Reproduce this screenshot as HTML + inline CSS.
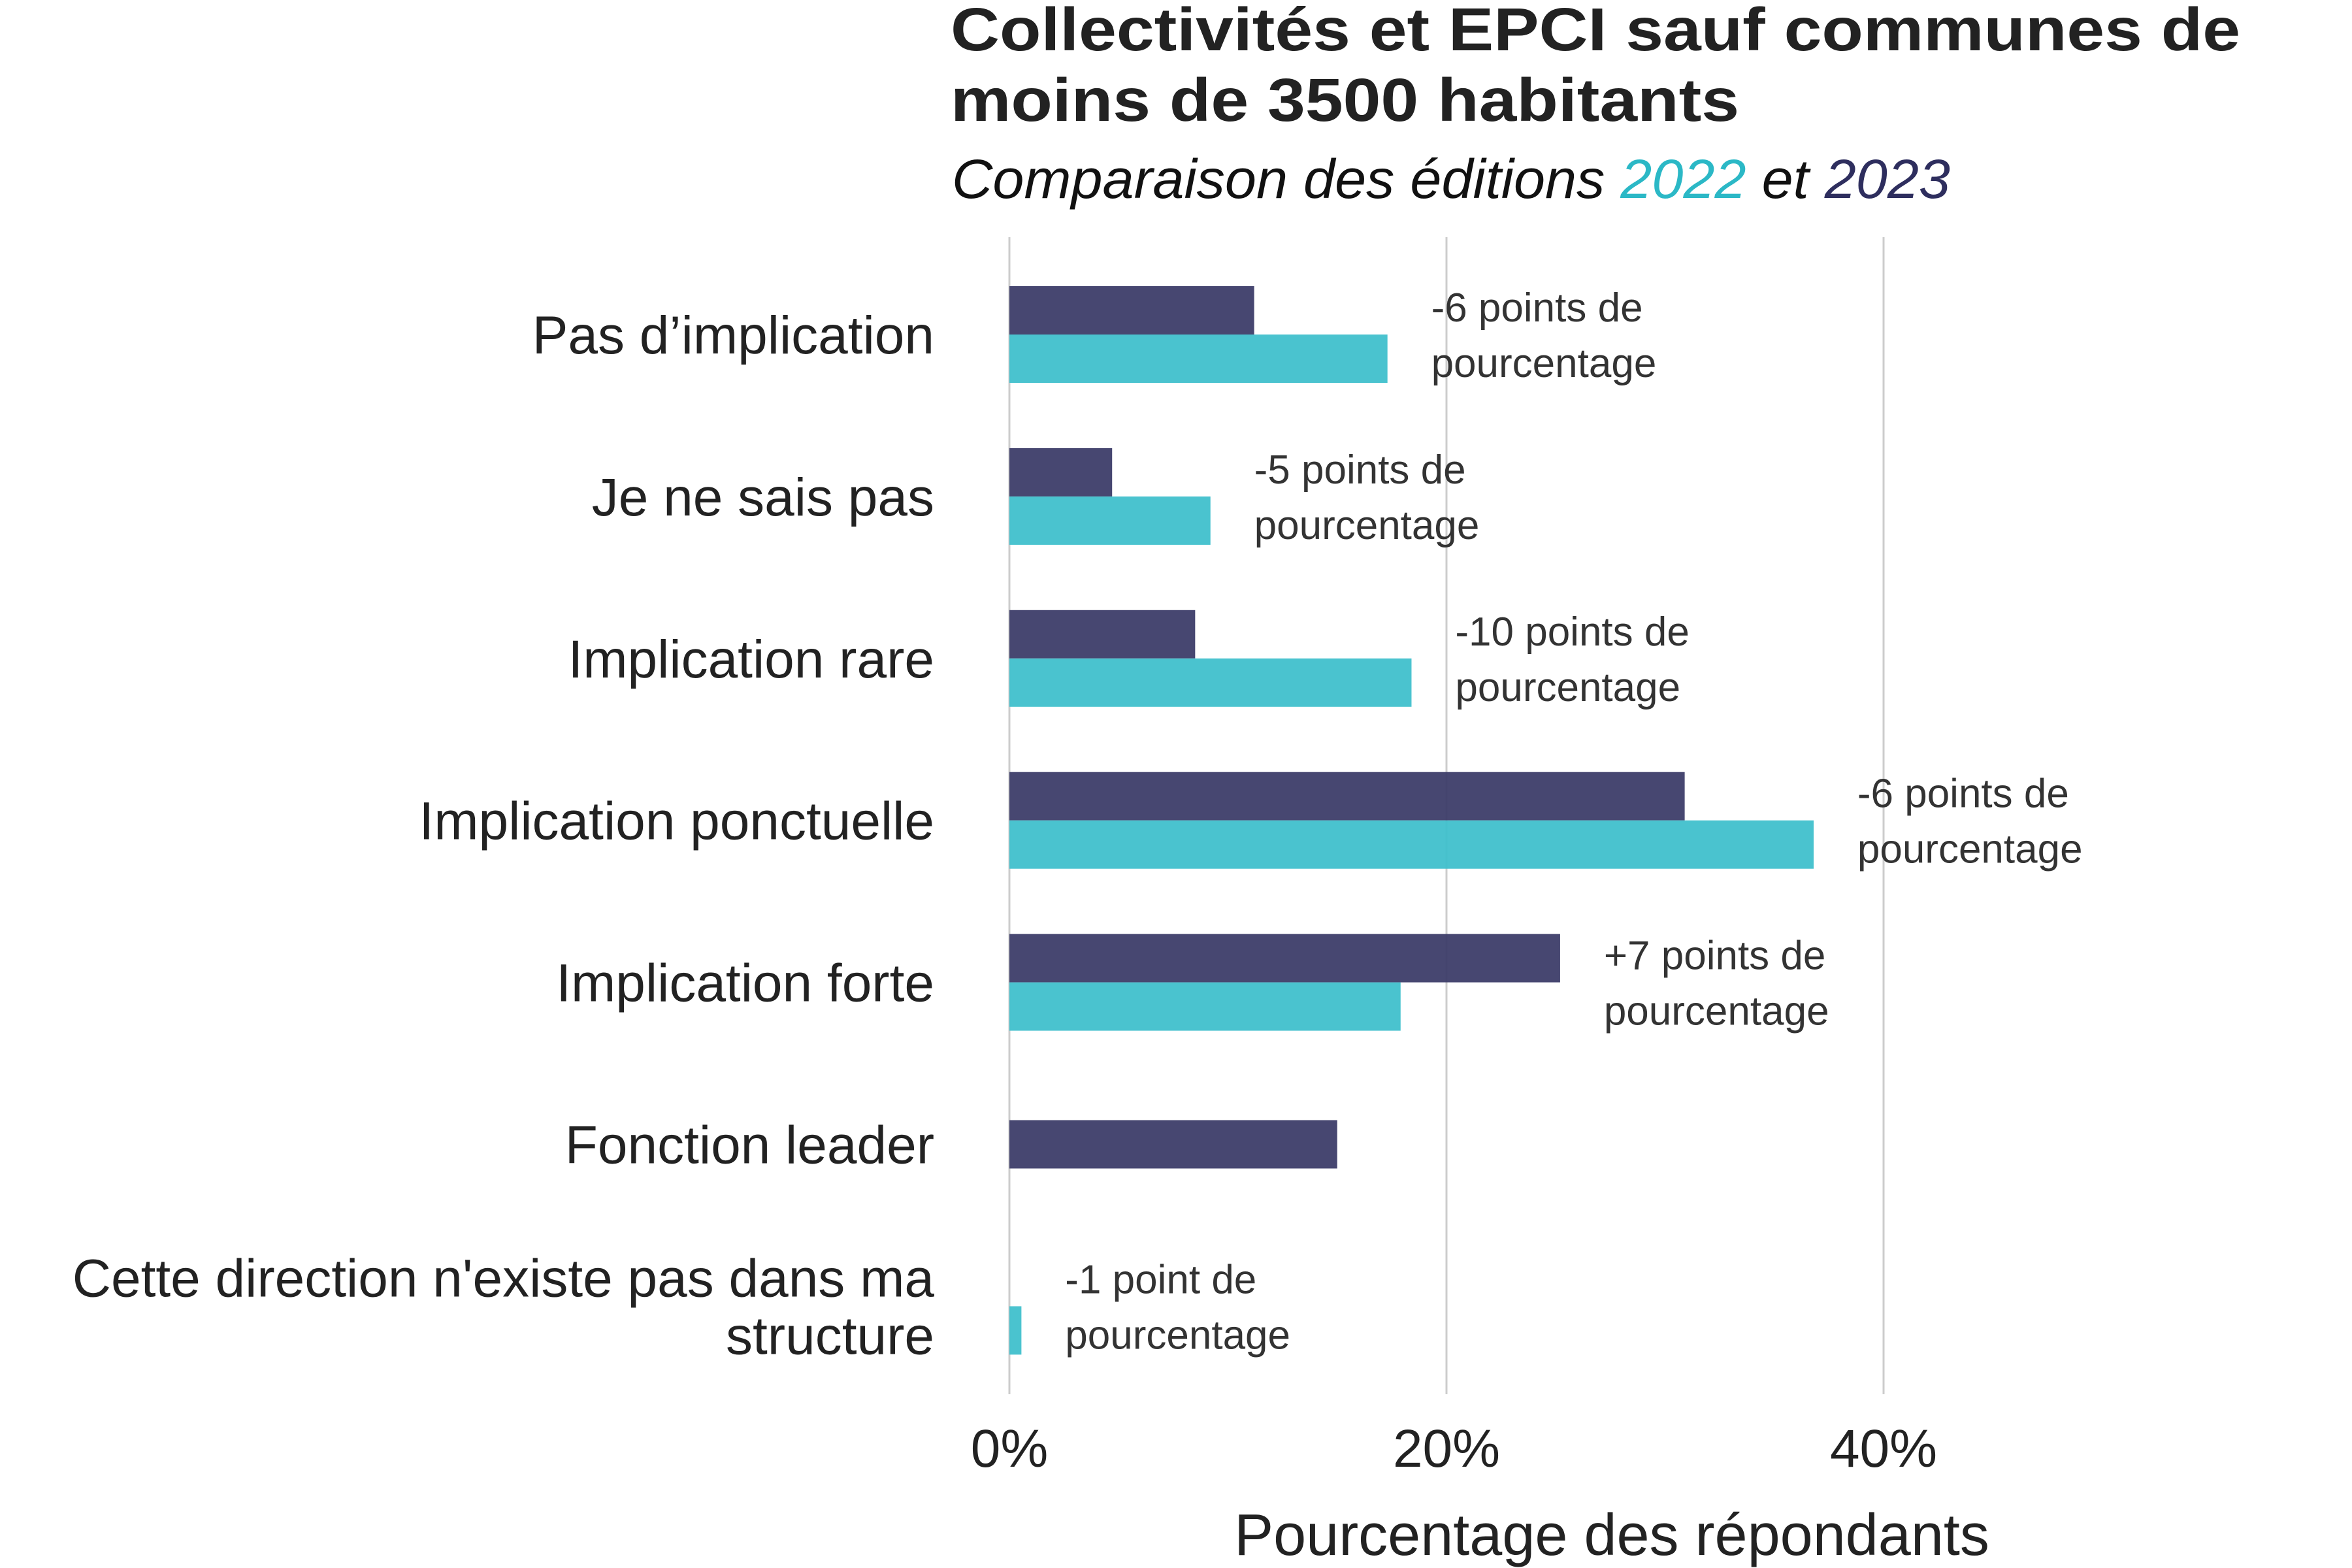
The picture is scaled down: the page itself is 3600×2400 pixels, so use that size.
<!DOCTYPE html>
<html><head><meta charset="utf-8"><style>html,body{margin:0;padding:0;background:#fff}svg{display:block}</style></head>
<body>
<svg id="chart" width="3600" height="2400" viewBox="0 0 3600 2400" xmlns="http://www.w3.org/2000/svg" font-family="'Liberation Sans', sans-serif">
<g>
<text x="1455" y="77" font-size="93" font-weight="bold" fill="#222" textLength="1974" lengthAdjust="spacingAndGlyphs">Collectivités et EPCI sauf communes de</text>
<text x="1455" y="185" font-size="93" font-weight="bold" fill="#222" textLength="1207" lengthAdjust="spacingAndGlyphs">moins de 3500 habitants</text>
</g>
<text x="1457" y="303" font-size="84" font-style="italic" fill="#111" textLength="1528" lengthAdjust="spacingAndGlyphs">Comparaison des éditions <tspan fill="#2BB8C6">2022</tspan> et <tspan fill="#2E2E5E">2023</tspan></text>
<g id="grid"></g><g id="bars"></g><g id="labels"></g>
<text x="2467" y="2380" font-size="90" fill="#222" text-anchor="middle">Pourcentage des répondants</text>
</svg>
<script>
const categories = ["Pas d\u2019implication","Je ne sais pas","Implication rare","Implication ponctuelle","Implication forte","Fonction leader","Cette direction n'existe pas dans ma structure"];
const values2023 = [11.2, 4.7, 8.5, 30.9, 25.2, 15.0, null];
const values2022 = [17.3, 9.2, 18.4, 36.8, 17.9, null, 0.55];
const annotations = ["-6 points de","-5 points de","-10 points de","-6 points de","+7 points de",null,"-1 point de"];
const ticks = [0, 20, 40];
const tickLabels = ["0%","20%","40%"];

const NS = "http://www.w3.org/2000/svg";
const x = v => 1545 + v * 33.45;
const rowY = i => 512 + i * 247.9;
const BH = 74;
function el(tag, attrs, parent, txt){const e=document.createElementNS(NS,tag);for(const k in attrs)e.setAttribute(k,attrs[k]);if(txt!=null)e.textContent=txt;parent.appendChild(e);return e;}
const grid=document.getElementById('grid'), bars=document.getElementById('bars'), labels=document.getElementById('labels');
ticks.forEach((t,i)=>{
  const l=el('line',{x1:x(t),x2:x(t),y1:363,y2:2134,stroke:'#cccccc','stroke-width':3},grid);
  
  
  const tx=el('text',{x:x(t),y:2245,'font-size':82,fill:'#222','text-anchor':'middle'},grid,tickLabels[i]);
  
  
});
categories.forEach((c,i)=>{
  const cy=rowY(i);
  const both = values2023[i]!=null && values2022[i]!=null;
  if(values2023[i]!=null){
    const y0 = both ? cy-BH : (values2022[i]==null ? cy-BH/2 : cy-BH);
    const r=el('rect',{x:x(0),y:y0,width:x(values2023[i])-x(0),height:BH,fill:'#393966','fill-opacity':0.93},bars);
    
    
  }
  if(values2022[i]!=null){
    const r=el('rect',{x:x(0),y:cy,width:x(values2022[i])-x(0),height:BH,fill:'#3CBECB','fill-opacity':0.93},bars);
    
    
  }
  if(c.length>30){
    const t=el('text',{x:1430,y:cy+29-44,'font-size':82,fill:'#222','text-anchor':'end'},labels,"Cette direction n'existe pas dans ma");
    
    
    const t2=el('text',{x:1430,y:cy+29+44,'font-size':82,fill:'#222','text-anchor':'end'},labels,"structure");
    
    
  } else {
    const t=el('text',{x:1430,y:cy+29,'font-size':82,fill:'#222','text-anchor':'end'},labels,c);
    
    
  }
  if(annotations[i]){
    const m=Math.max(values2023[i]||0, values2022[i]||0)+2;
    const a=el('text',{x:x(m),y:cy-20,'font-size':62,fill:'#333'},labels,annotations[i]);
    
    
    const a2=el('text',{x:x(m),y:cy+65,'font-size':62,fill:'#333'},labels,"pourcentage");
    
    
  }
});
</script>
</body></html>
